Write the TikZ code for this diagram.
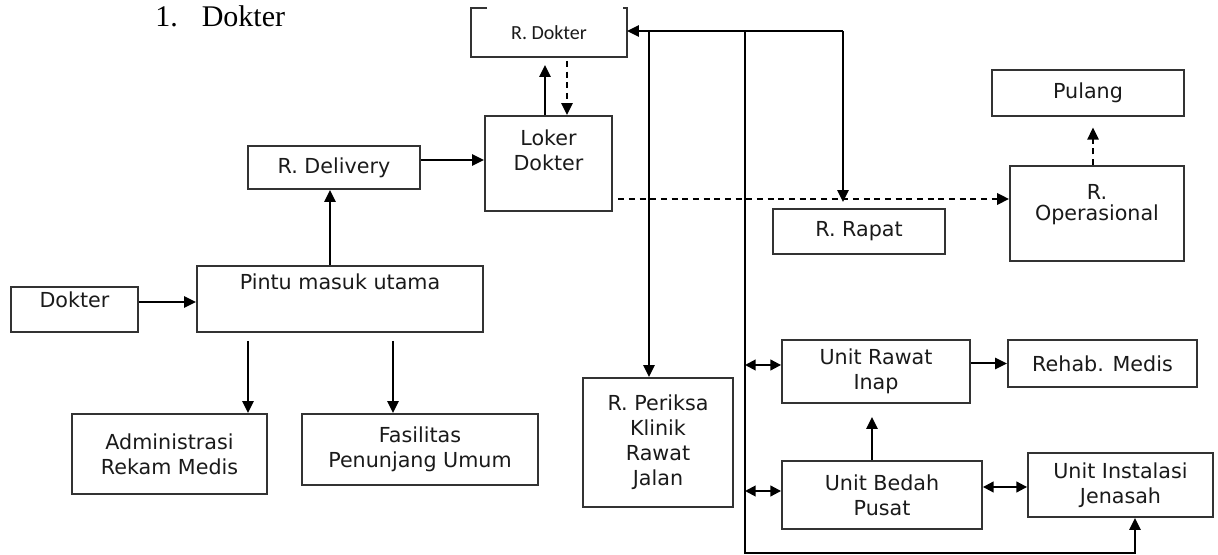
\documentclass[tikz,border=0pt]{standalone}
\usepackage{fontspec}
\setmainfont{DejaVu Sans}
\newfontfamily\carl{Carlito}
\newfontfamily\tms{Liberation Serif}
\usetikzlibrary{arrows.meta,calc}
\definecolor{boxc}{HTML}{333333}
\definecolor{txtc}{HTML}{1A1A1A}
\newcommand{\boxfont}{\fontsize{15.5}{18.75}\selectfont}
\begin{document}
\begin{tikzpicture}[x=0.75pt,y=-0.75pt,
  box/.style={draw=boxc, line width=1.4pt, inner sep=0pt, align=center, font=\boxfont, text=txtc},
  lbl/.style={font=\boxfont, text=txtc, align=center, inner sep=0pt},
  conn/.style={line width=1.5pt},
  arr/.style={conn, -{Triangle[length=9pt,width=8.5pt]}},
  darr/.style={conn, {Triangle[length=8pt,width=8pt]}-{Triangle[length=8pt,width=8pt]}},
  dasharr/.style={line width=1.8pt, dash pattern=on 4.5pt off 3.5pt, -{Triangle[length=9pt,width=8.5pt]}}
]
\fill[white] (0,0) rectangle (1218,555);
\useasboundingbox (0,0) rectangle (1218,555);

% title
\node[font=\tms\fontsize{22.5}{26}\selectfont, anchor=west, inner sep=0pt] (title) at (155,16) {1.\hspace{18pt}Dokter};

% boxes
\node[box, draw=none, minimum width=115.5pt, minimum height=35.25pt, font=\carl\fontsize{15}{18}\selectfont] (rdok) at (549,32.5) {R. Dokter};
\draw[boxc, line width=1.4pt] ($(rdok.north west)+(16,0)$) -| (rdok.south west) -| (rdok.north east) -- ++(-4,0);

\node[box, minimum width=95.25pt, minimum height=71.25pt,
  label={[lbl, anchor=north, yshift=-10.5pt]north:{Loker\\Dokter}}] (lok) at (548.5,163.5) {};
\node[box, minimum width=129pt, minimum height=32.25pt] (del) at (334,167.5) {R. Delivery};
\node[box, minimum width=214.5pt, minimum height=49.5pt,
  label={[lbl, anchor=north, yshift=-6pt]north:{Pintu masuk utama}}] (pintu) at (340,299) {};
\node[box, minimum width=95.25pt, minimum height=33.75pt,
  label={[lbl, anchor=center, yshift=7.1pt]center:{Dokter}}] (dok) at (74.5,309.5) {};
\node[box, minimum width=146.25pt, minimum height=60pt] (adm) at (169.5,454) {Administrasi\\Rekam Medis};
\node[box, minimum width=177pt, minimum height=53.25pt] (fas) at (420,449.5) {Fasilitas\\Penunjang Umum};
\node[box, minimum width=112.5pt, minimum height=96.75pt] (per) at (658,442.5) {R. Periksa\\Klinik\\Rawat\\Jalan};
\node[box, minimum width=129pt, minimum height=33.75pt] (rapat) at (859,231.5) {R. Rapat};
\node[box, minimum width=144pt, minimum height=34.5pt] (pul) at (1088,93) {Pulang};
\node[box, minimum width=130.5pt, minimum height=71.25pt,
  label={[lbl, anchor=north, yshift=-14pt, font=\fontsize{15.5}{15.75}\selectfont]north:{R.\\Operasional}}] (rop) at (1097,213.5) {};
\node[box, minimum width=141pt, minimum height=47.25pt] (rin) at (876,371.5) {Unit Rawat\\Inap};
\node[box, minimum width=141.75pt, minimum height=35.25pt] (reh) at (1102.5,363.5) {Rehab. Medis};
\node[box, minimum width=150pt, minimum height=51pt] (bed) at (882,495) {Unit Bedah\\Pusat};
\node[box, minimum width=138.75pt, minimum height=48pt] (inst) at (1120.5,485) {Unit Instalasi\\Jenasah};

% helper coordinates
\coordinate (yA) at (0,302);
\coordinate (xB) at (330,0);
\coordinate (yC) at (0,160);
\coordinate (xD) at (545,0);
\coordinate (xE) at (567,0);
\coordinate (yF) at (0,199);
\coordinate (xG) at (1093,0);
\coordinate (j1) at (649,31);
\coordinate (j2) at (745,31);
\coordinate (j3) at (843,31);
\coordinate (b1) at (745,553);
\coordinate (b2) at (1135,553);
\coordinate (yH) at (0,365);
\coordinate (yI) at (0,491);
\coordinate (xJ) at (872,0);
\coordinate (yK) at (0,487);
\coordinate (a1) at (248,341);
\coordinate (a2) at (393,341);

% connectors
\draw[arr] (dok.east |- yA) -- (pintu.west |- yA);
\draw[arr] (pintu.north -| xB) -- (del.south -| xB);
\draw[arr] (del.east |- yC) -- (lok.west |- yC);
\draw[arr, shorten >=6pt] (lok.north -| xD) -- (rdok.south -| xD);
\draw[dasharr, line width=1.3pt, shorten <=3pt] (rdok.south -| xE) -- (lok.north -| xE);
\draw[dasharr, shorten <=4pt] (lok.east |- yF) -- (rop.west |- yF);
\draw[dasharr, line width=1.3pt, shorten >=8pt] (rop.north -| xG) -- (pul.south -| xG);

\draw[arr] (j3) -- (rdok.east |- j3);
\draw[arr] (j1) -- (per.north -| j1);
\draw[arr, shorten >=4.5pt] (j3) -- (rapat.north -| j3);
\draw[arr] (j2) -- (b1) -- (b2) -- (inst.south -| b2);
\draw[darr] (j2 |- yH) -- (rin.west |- yH);
\draw[darr] (j2 |- yI) -- (bed.west |- yI);
\draw[arr] (rin.east |- reh.west) -- (reh.west);
\draw[arr, shorten >=9.75pt] (bed.north -| xJ) -- (rin.south -| xJ);
\draw[darr] (bed.east |- yK) -- (inst.west |- yK);
\draw[arr] (a1) -- (adm.north -| a1);
\draw[arr] (a2) -- (fas.north -| a2);
\end{tikzpicture}
\end{document}
